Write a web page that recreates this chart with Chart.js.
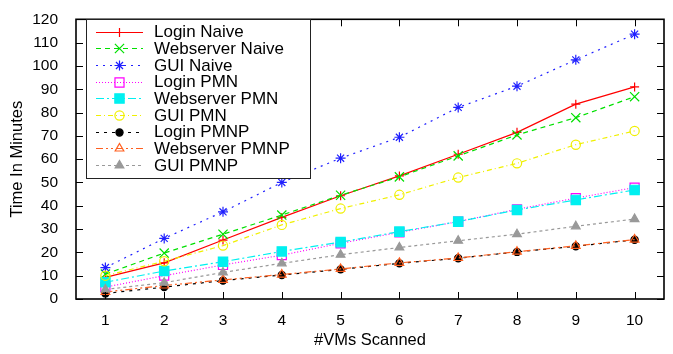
<!DOCTYPE html>
<html><head><meta charset="utf-8">
<script src="https://cdn.jsdelivr.net/npm/chart.js@4.4.0/dist/chart.umd.min.js"></script>
<style>html,body{margin:0;padding:0;background:#fff}#wrap{width:673px;height:354px}</style>
</head><body><div id="wrap"><canvas id="c" width="673" height="354"></canvas></div>
<script>
const vmsScanned = [1,2,3,4,5,6,7,8,9,10];
const yTicks = [0,10,20,30,40,50,60,70,80,90,100,110,120];
const seriesNames = ["Login Naive","Webserver Naive","GUI Naive","Login PMN","Webserver PMN","GUI PMN","Login PMNP","Webserver PMNP","GUI PMNP"];
const loginNaive = [9.3, 15.5, 25.3, 35, 44.3, 52.8, 62.1, 71.5, 83.6, 91];
const webNaive   = [10.7, 19.7, 27.8, 36, 44.5, 52.4, 61.4, 70.4, 77.8, 86.8];
const guiNaive   = [13.5, 26, 37.4, 50, 60.4, 69.4, 82.2, 91.3, 102.6, 113.6];
const loginPMN   = [5.1, 10, 14.6, 18.8, 23.9, 28.6, 33.2, 38.5, 43.3, 47.8];
const webPMN     = [7.2, 12, 16, 20.4, 24.4, 28.9, 33.2, 38.2, 42.5, 46.8];
const guiPMN     = [10, 16.2, 22.9, 31.8, 38.8, 44.7, 52.1, 58.2, 66.2, 72.1];
const loginPMNP  = [2.4, 5.1, 7.9, 10.3, 12.7, 15.3, 17.5, 20.2, 22.6, 25.4];
const webPMNP    = [3, 5.8, 8.2, 10.5, 12.9, 15.5, 17.6, 20.3, 22.8, 25.5];
const guiPMNP    = [4.1, 7, 11.4, 15.3, 19, 22.1, 25, 27.8, 31.2, 34.3];

const allValues = [loginNaive, webNaive, guiNaive, loginPMN, webPMN, guiPMN, loginPMNP, webPMNP, guiPMNP];
const styles = [
  {c:'#ff0000', dash:[], ps:'cross', fill:false, r:4.5},
  {c:'#00e000', dash:[5,4], ps:'crossRot', fill:false, r:6.5},
  {c:'#2020ff', dash:[2,5], ps:'star', fill:false, r:5},
  {c:'#ff00ff', dash:[1,2], ps:'rect', fill:false, r:6.4},
  {c:'#00f0f0', dash:[8,3,2,3], ps:'rect', fill:true, r:6.6},
  {c:'#f0f000', dash:[5,3,1,3], ps:'circle', fill:false, r:4.6},
  {c:'#000000', dash:[3,5], ps:'circle', fill:true, r:3.6},
  {c:'#ff6020', dash:[7,3,2,3,2,3], ps:'triangle', fill:false, r:5},
  {c:'#999999', dash:[3,3], ps:'triangle', fill:true, r:5}
];

const datasets = allValues.map((vals, i) => ({
  label: seriesNames[i],
  data: vals.map((v, j) => ({x: vmsScanned[j], y: v})),
  borderColor: styles[i].c,
  backgroundColor: styles[i].fill ? styles[i].c : 'rgba(0,0,0,0)',
  borderWidth: 1.2,
  borderDash: styles[i].dash,
  pointStyle: styles[i].ps,
  pointRadius: styles[i].r,
  pointBorderWidth: 1.2,
  pointBorderColor: styles[i].c,
  pointBackgroundColor: styles[i].fill ? styles[i].c : 'rgba(0,0,0,0)',
  tension: 0,
  order: 8 - i
}));

const FONT = '"Liberation Sans", Arial, Helvetica, sans-serif';

const framePlugin = {
  id: 'frame',
  afterDatasetsDraw(chart) {
    const {ctx, chartArea: a, scales} = chart;
    ctx.save();
    ctx.strokeStyle = '#000';
    ctx.lineWidth = 1;
    const tl = 7;
    ctx.beginPath();
    yTicks.forEach(v => {
      const y = Math.round(scales.y.getPixelForValue(v)) + 0.5;
      ctx.moveTo(a.left, y); ctx.lineTo(a.left + tl, y);
      ctx.moveTo(a.right, y); ctx.lineTo(a.right - tl, y);
    });
    vmsScanned.forEach(v => {
      const x = Math.round(scales.x.getPixelForValue(v)) + 0.5;
      ctx.moveTo(x, a.bottom); ctx.lineTo(x, a.bottom - tl);
      ctx.moveTo(x, a.top); ctx.lineTo(x, a.top + tl);
    });
    ctx.stroke();
    ctx.lineWidth = 1.6;
    ctx.strokeRect(a.left, a.top, a.right - a.left, a.bottom - a.top);

    // legend
    const bx = 86.5, by = 19.5, bw = 224, bh = 159;
    ctx.fillStyle = '#fff';
    ctx.fillRect(bx, by, bw, bh);
    ctx.lineWidth = 1;
    ctx.strokeStyle = '#222';
    ctx.strokeRect(bx, by, bw, bh);
    ctx.font = '17px ' + FONT;
    ctx.textBaseline = 'middle';
    ctx.textAlign = 'left';
    chart.data.datasets.forEach((ds, i) => {
      const y = 31.5 + i * 16.7;
      ctx.save();
      ctx.strokeStyle = ds.borderColor;
      ctx.lineWidth = 1.2;
      ctx.setLineDash(ds.borderDash);
      ctx.beginPath();
      ctx.moveTo(96, Math.round(y) + 0.5); ctx.lineTo(143, Math.round(y) + 0.5);
      ctx.stroke();
      ctx.setLineDash([]);
      ctx.fillStyle = ds.pointBackgroundColor;
      ctx.strokeStyle = ds.pointBorderColor;
      Chart.helpers.drawPoint(ctx, {pointStyle: ds.pointStyle, radius: ds.pointRadius, borderWidth: 1.2, rotation: 0}, 119.5, Math.round(y) + 0.5);
      ctx.restore();
      ctx.fillStyle = '#000';
      ctx.fillText(ds.label, 154, y + 1);
    });
    ctx.restore();
  }
};

new Chart(document.getElementById('c'), {
  type: 'line',
  data: { datasets },
  plugins: [framePlugin],
  options: {
    responsive: false,
    animation: false,
    devicePixelRatio: 1,
    layout: { padding: { top: 11, right: 9, left: 0, bottom: 0 } },
    plugins: { legend: { display: false }, tooltip: { enabled: false } },
    scales: {
      x: {
        type: 'linear', min: 0.5, max: 10.5,
        afterBuildTicks(s) { s.ticks = vmsScanned.map(v => ({value: v})); },
        afterFit(s) { s.height = 55; },
        grid: { display: false }, border: { display: false },
        ticks: { color: '#000', font: { family: FONT, size: 15.5 }, padding: 4, maxRotation: 0, autoSkip: false },
        title: { display: true, text: '#VMs Scanned', color: '#000', font: { family: FONT, size: 16.5 }, padding: { top: 1, bottom: 4 } }
      },
      y: {
        type: 'linear', min: 0, max: 120,
        afterBuildTicks(s) { s.ticks = yTicks.map(v => ({value: v})); },
        afterFit(s) { s.width = 76; },
        grid: { display: false }, border: { display: false },
        ticks: { color: '#000', font: { family: FONT, size: 15.5 }, padding: 10, autoSkip: false },
        title: { display: true, text: 'Time In Minutes', color: '#000', font: { family: FONT, size: 16.5 }, padding: { top: 8, bottom: 0 } }
      }
    }
  }
});
</script></body></html>
